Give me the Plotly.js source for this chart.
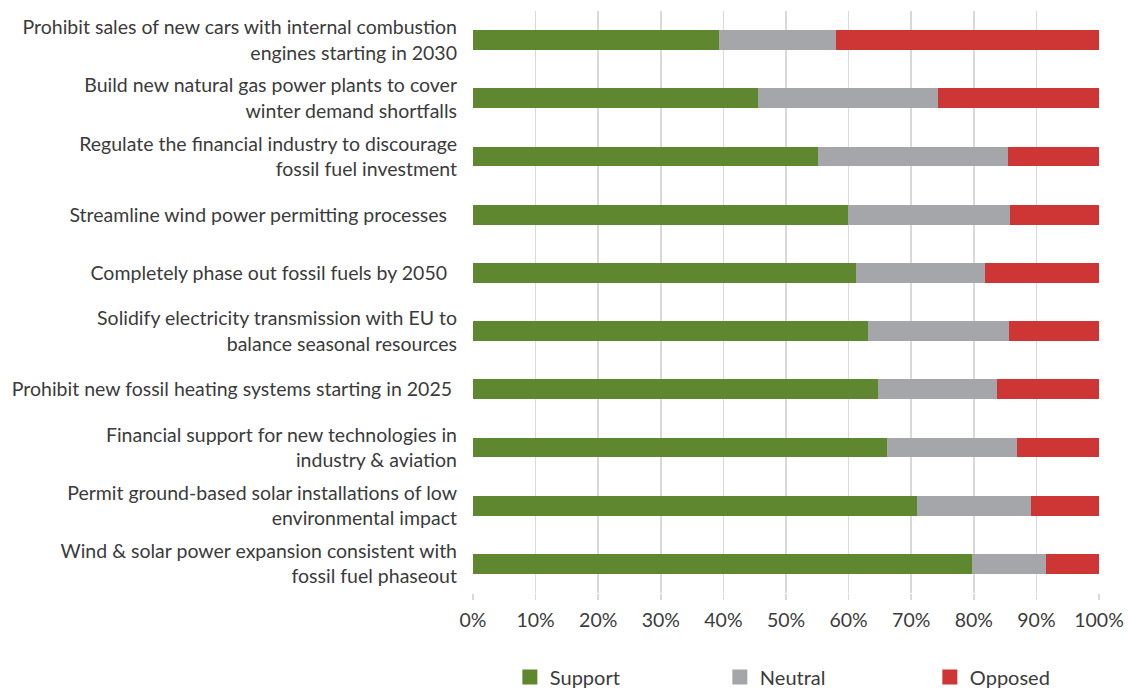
<!DOCTYPE html>
<html>
<head>
<meta charset="utf-8">
<script src="https://cdn.plot.ly/plotly-3.0.1.min.js"></script>
<style>
  html, body { margin: 0; padding: 0; background: #fff; }
  #chart { width: 1128px; height: 689px; }
</style>
</head>
<body>
<div id="chart"></div>
<script>
// Policy measures, top to bottom
const measures = [
  'Prohibit sales of new cars with internal combustion<br>engines starting in 2030',
  'Build new natural gas power plants to cover<br>winter demand shortfalls',
  'Regulate the financial industry to discourage<br>fossil fuel investment',
  'Streamline wind power permitting processes\u00A0\u00A0',
  'Completely phase out fossil fuels by 2050\u00A0\u00A0',
  'Solidify electricity transmission with EU to<br>balance seasonal resources',
  'Prohibit new fossil heating systems starting in 2025\u00A0',
  'Financial support for new technologies in<br>industry & aviation',
  'Permit ground-based solar installations of low<br>environmental impact',
  'Wind & solar power expansion consistent with<br>fossil fuel phaseout'
];

// Share of respondents (%)
const support = [39.6, 45.7, 55.4, 60.1, 61.4, 63.3, 64.9, 66.3, 71.1, 80.0];
const neutral = [18.7, 28.8, 30.3, 25.9, 20.7, 22.6, 19.1, 20.9, 18.3, 11.8];
const opposed = [41.7, 25.5, 14.3, 14.0, 17.9, 14.1, 16.0, 12.8, 10.6, 8.2];

const xTicks = [0, 10, 20, 30, 40, 50, 60, 70, 80, 90, 100];
const xTickText = ['0%', '10%', '20%', '30%', '40%', '50%', '60%', '70%', '80%', '90%', '100%'];

const FONT = 'Lato, "Open Sans", sans-serif';
const TEXT = '#3b3b3b';

function series(name, values, color) {
  return {
    type: 'bar',
    orientation: 'h',
    name: name,
    x: values,
    y: measures,
    marker: { color: color, line: { width: 3, color: color } },
    hoverinfo: 'x+name'
  };
}

const data = [
  series('Support', support, '#5F872F'),
  series('Neutral', neutral, '#A5A6A9'),
  series('Opposed', opposed, '#CD3634')
];

const layout = {
  width: 1128,
  height: 689,
  barmode: 'stack',
  bargap: 0.71,
  paper_bgcolor: '#ffffff',
  plot_bgcolor: '#ffffff',
  font: { family: FONT, size: 19.5, color: TEXT },
  margin: { l: 473, r: 29, t: 11, b: 96 },
  xaxis: {
    range: [0, 100],
    tickvals: xTicks,
    ticktext: xTickText,
    showgrid: true,
    gridcolor: '#d9d9d9',
    gridwidth: 1.5,
    zeroline: false,
    showline: false,
    ticks: 'outside',
    ticklen: 6,
    tickwidth: 1.5,
    tickcolor: '#d9d9d9',
    ticklabelstandoff: 4,
    tickfont: { family: FONT, size: 19.5, color: TEXT },
    fixedrange: true
  },
  yaxis: {
    type: 'category',
    autorange: 'reversed',
    showgrid: false,
    zeroline: false,
    showline: false,
    ticks: '',
    ticklabelstandoff: 15,
    tickfont: { family: FONT, size: 19.5, color: TEXT },
    fixedrange: true
  },
  legend: {
    orientation: 'h',
    xref: 'container',
    yref: 'container',
    x: 0.452,
    xanchor: 'left',
    y: 0.0174,
    yanchor: 'middle',
    entrywidth: 165,
    entrywidthmode: 'pixels',
    traceorder: 'normal',
    font: { family: FONT, size: 20, color: TEXT },
    bgcolor: 'rgba(0,0,0,0)'
  },
  showlegend: true
};

Plotly.newPlot('chart', data, layout, { displayModeBar: false, staticPlot: true });
</script>
</body>
</html>
